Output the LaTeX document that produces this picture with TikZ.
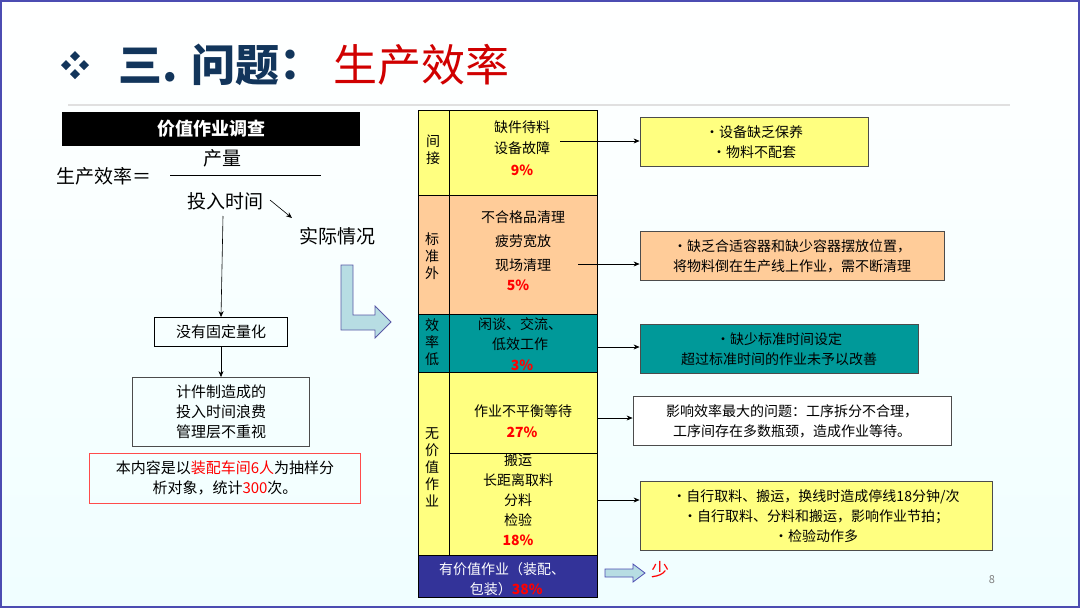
\documentclass[tikz,border=0pt]{standalone}
\usepackage{fontspec}
\setmainfont{Noto Sans CJK SC}
\usetikzlibrary{arrows.meta}
\definecolor{navy}{HTML}{12355B}
\definecolor{tred}{HTML}{D00000}
\definecolor{ylw}{HTML}{FFFF80}
\definecolor{peach}{HTML}{FFCC99}
\definecolor{teal2}{HTML}{009999}
\definecolor{blu}{HTML}{333399}
\definecolor{lblue}{HTML}{B7DDE3}
\tikzset{
 t/.style={font=\fontsize{14}{17}\selectfont, inner sep=0pt, align=center},
 pc/.style={font=\fontsize{14}{16}\selectfont\bfseries, text=red, inner sep=0pt},
 col/.style={draw=black, line width=0.8pt},
 arr/.style={-{Stealth[length=6pt,width=5pt]}, line width=0.6pt},
 rbox/.style={draw=black!70, line width=0.8pt, inner sep=0pt},
}
\begin{document}
\begin{tikzpicture}[x=1pt,y=-1pt]
\useasboundingbox (0,0) rectangle (1080,608);
\shade[top color=white, bottom color=blue!4!cyan!6] (0,0) rectangle (1080,608);
\draw[blue!40!gray, line width=1.5pt] (1,1) rectangle (1079,607);
% title
\foreach \dx/\dy in {0/-9,-9/0,9/0,0/9} \fill[navy] (75+\dx,65+\dy) +(0,-5) -- +(5,0) -- +(0,5) -- +(-5,0) -- cycle;
\node[anchor=west, inner sep=0, text=navy, font=\fontsize{44}{48}\selectfont\bfseries] (ti) at (118,65) {三. 问题};
\node[anchor=west, inner sep=0, text=navy, font=\fontsize{44}{48}\selectfont\bfseries] (tc) at (ti.east) {：};
\node[anchor=west, inner sep=0, text=tred, font=\fontsize{44}{48}\selectfont] (ti2) at (333,65) {生产效率};
\draw[black!12, line width=1.5pt] (68,105) -- (1010,105);
% left
\node[fill=black, text=white, minimum width=298, minimum height=34, inner sep=0, font=\fontsize{18}{20}\selectfont\bfseries] (hd) at (211,129) {价值作业调查};
\node[t, font=\fontsize{19}{20}\selectfont, anchor=west] (eq) at (56,176) {生产效率＝};
\draw[line width=0.6pt] (170,175) -- (321,175);
\node[t, font=\fontsize{19}{20}\selectfont] (cl) at (222,158) {产量};
\node[t, font=\fontsize{19}{20}\selectfont] (tr) at (225,201) {投入时间};
\node[t, font=\fontsize{19}{20}\selectfont] (sj) at (337,236) {实际情况};
\coordinate (a1) at (270,200); \coordinate (a2) at (292,218);
\draw[arr] (a1) -- (a2);
\node[draw=black, line width=0.8pt, minimum width=133, minimum height=29, t, font=\fontsize{15}{17}\selectfont] (b1) at (221,332) {没有固定量化};
\draw[arr] (223,216) -- (b1.north);
\node[draw=black!70, line width=0.8pt, minimum width=177, minimum height=69, t, font=\fontsize{15}{20}\selectfont] (b2) at (221,412) {计件制造成的\\投入时间浪费\\管理层不重视};
\draw[arr] (b1.south) -- (b2.north);
\node[draw=red!70, line width=0.8pt, minimum width=271, minimum height=50, t, font=\fontsize{15}{20}\selectfont] (b3) at (225,478) {本内容是以\textcolor{red}{装配车间6人}为抽样分\\析对象，统计\textcolor{red}{300}次。};
\filldraw[fill=lblue, draw=gray!70!blue, line width=0.8pt] (341,265) -- (353,265) -- (353,315) -- (375,315) -- (375,306) -- (391,322) -- (375,338) -- (375,330) -- (341,330) -- cycle;
% column
\filldraw[col, fill=ylw] (418,110) rectangle (597,195);
\filldraw[col, fill=peach] (418,195) rectangle (597,314);
\filldraw[col, fill=teal2] (418,314) rectangle (597,372);
\filldraw[col, fill=ylw] (418,372) rectangle (597,555);
\filldraw[col, fill=blu] (418,555) rectangle (597,597);
\draw[col] (449,110) -- (449,555);
\draw[col] (449,453) -- (597,453);
\node[t, font=\fontsize{14}{17}\selectfont] (l1) at (433,150) {间\\接};
\node[t, font=\fontsize{14}{17}\selectfont] (l2) at (432,256) {标\\准\\外};
\node[t, font=\fontsize{14}{17}\selectfont] (l3) at (432,342) {效\\率\\低};
\node[t, font=\fontsize{14}{17}\selectfont] (l4) at (432,467) {无\\价\\值\\作\\业};
\node[t, font=\fontsize{14}{21}\selectfont] (c1) at (522,138) {缺件待料\\设备故障};
\node[pc] (p1) at (522,170) {9\%};
\node[t, font=\fontsize{14}{24}\selectfont] (c2) at (523,241) {不合格品清理\\疲劳宽放\\现场清理};
\node[pc] (p2) at (518,285) {5\%};
\node[t, font=\fontsize{14}{20}\selectfont] (c3) at (520,334) {闲谈、交流、\\低效工作};
\node[pc] (p3) at (522,365) {3\%};
\node[t] (c4) at (523,411) {作业不平衡等待};
\node[pc] (p4) at (522,432) {27\%};
\node[t, font=\fontsize{14}{20}\selectfont] (c5) at (518,490) {搬运\\长距离取料\\分料\\检验};
\node[pc] (p5) at (518,540) {18\%};
\node[t, text=white, font=\fontsize{14}{20}\selectfont, align=left] (c6) at (502,579) {有价值作业（装配、\\\hspace*{2.2em}包装）\textcolor{red}{\bfseries 38\%}};
% right boxes
\node[rbox, fill=ylw, minimum width=228, minimum height=49, t, font=\fontsize{14}{20}\selectfont] (r1) at (754,142) {·设备缺乏保养\\·物料不配套};
\node[rbox, fill=peach, minimum width=304, minimum height=49, t, font=\fontsize{14}{20}\selectfont] (r2) at (792,256) {·缺乏合适容器和缺少容器摆放位置，\\将物料倒在生产线上作业，需不断清理};
\node[rbox, fill=teal2, minimum width=278, minimum height=49, t, font=\fontsize{14}{20}\selectfont] (r3) at (779,349) {·缺少标准时间设定\\超过标准时间的作业未予以改善};
\node[rbox, fill=white, minimum width=318, minimum height=49, t, font=\fontsize{14}{20}\selectfont] (r4) at (792,421) {影响效率最大的问题：工序拆分不合理，\\工序间存在多数瓶颈，造成作业等待。};
\node[rbox, fill=ylw, minimum width=352, minimum height=69, t, font=\fontsize{14}{20}\selectfont] (r5) at (816,516) {·自行取料、搬运，换线时造成停线18分钟/次\\·自行取料、分料和搬运，影响作业节拍；\\·检验动作多};
\coordinate (s1) at (560,141); \coordinate (s2) at (578,264);
\draw[arr] (s1) -- (r1.west|-s1);
\draw[arr] (s2) -- (r2.west|-s2);
\draw[arr] (597,347) -- (r3.west|-0,347);
\draw[arr] (597,418) -- (r4.west|-0,418);
\draw[arr] (597,500) -- (r5.west|-0,500);
\filldraw[fill=lblue, draw=gray!60!blue, line width=0.8pt] (605,569) -- (633,569) -- (633,564) -- (645,573) -- (633,582) -- (633,577) -- (605,577) -- cycle;
\node[t, text=red, font=\fontsize{18}{20}\selectfont] (sh) at (660,570) {少};
\node[t, text=gray, font=\fontsize{11}{12}\selectfont] (pg) at (992,580) {8};
\end{tikzpicture}
\end{document}
